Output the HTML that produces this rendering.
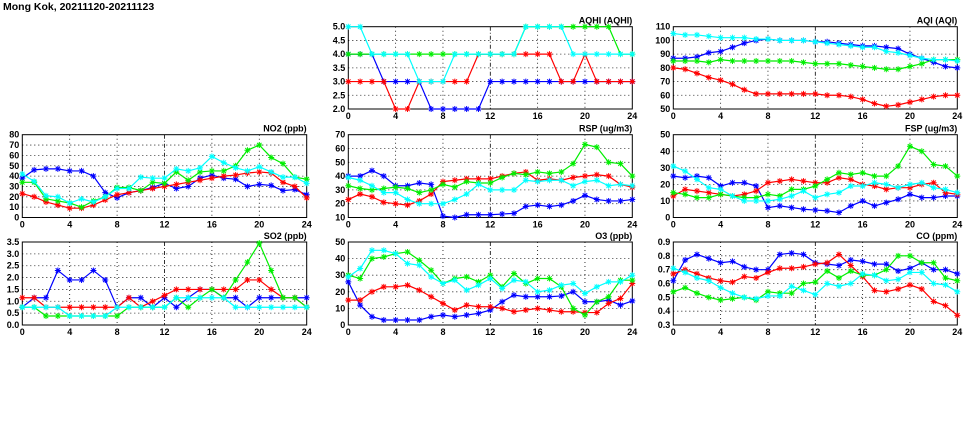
<!DOCTYPE html>
<html><head><meta charset="utf-8"><style>
body{margin:0;background:#fff;width:975px;height:447px;overflow:hidden}
svg{display:block}
text{font-family:"Liberation Sans",sans-serif;font-weight:bold;font-size:9px;fill:#000}
</style></head><body>
<svg id="s" width="975" height="447" xmlns="http://www.w3.org/2000/svg">
<text x="3" y="10" style="font-size:10.5px">Mong Kok, 20211120-20211123</text>
</svg>
<script>
const S=document.getElementById('s');
const NS='http://www.w3.org/2000/svg';
function el(t,a,txt){const e=document.createElementNS(NS,t);for(const k in a)e.setAttribute(k,a[k]);if(txt!=null)e.textContent=txt;S.appendChild(e);return e;}
const C={b:'#0000ff',r:'#ff0000',g:'#00ee00',c:'#00ffff'};
function panel(x0,x1,y0,y1,min,max,step,dec,title,data){
  const sx=h=>x0+(x1-x0)*h/24, sy=v=>y1-(y1-y0)*(v-min)/(max-min);
  el('rect',{x:x0,y:y0,width:x1-x0,height:y1-y0,fill:'none',stroke:'#000','stroke-width':1});
  const n=Math.round((max-min)/step);
  for(let i=0;i<=n;i++){const v=min+i*step,y=sy(v);
    if(i>0&&i<n)el('line',{x1:x0,x2:x1,y1:y,y2:y,stroke:'#000','stroke-width':0.8,'stroke-dasharray':'1,3'});
    el('text',{x:x0-3,y:y+3,'text-anchor':'end'},v.toFixed(dec));}
  for(let h=0;h<=24;h+=4){const x=sx(h);
    if(h>0&&h<24)el('line',{x1:x,x2:x,y1:y0,y2:y1,stroke:'#000','stroke-width':0.8,'stroke-dasharray':h==12?'4,2,1,2':'1,3'});
    el('text',{x:x,y:y1+10,'text-anchor':'middle'},h);}
  el('text',{x:x1,y:y0-3,'text-anchor':'end'},title);
  for(const k of ['b','r','g','c']){const d=data[k];
    el('polyline',{points:d.map((v,i)=>sx(i)+','+sy(v)).join(' '),fill:'none',stroke:C[k],'stroke-width':1.2});
    d.forEach((v,i)=>{const x=sx(i),y=sy(v),r=3;
      el('path',{d:`M${x-r},${y}H${x+r}M${x},${y-r}V${y+r}M${x-2.2},${y-2.2}L${x+2.2},${y+2.2}M${x-2.2},${y+2.2}L${x+2.2},${y-2.2}`,stroke:C[k],'stroke-width':1});});
  }
}
const L=[22.3,306.7],M=[348.3,632.3],R=[673.3,957.3];
const T=[26.7,109],MID=[134.7,217.5],B=[242,325];
panel(L[0],L[1],MID[0],MID[1],0,80,10,0,'NO2 (ppb)',{
b:[38,46,47,47,45,45,40,24,19,24,26,29,33,28,30,38,41,38,37,30,32,31,26,27,22],
r:[23,20,15,12,9,9,12,17,22,24,26,28,30,32,34,36,38,40,41,43,44,43,34,30,19],
g:[34,34,18,16,14,10,16,20,29,29,26,34,33,44,36,44,45,45,50,65,70,58,52,39,37],
c:[42,35,21,20,14,18,15,20,28,28,39,38,38,47,45,48,59,53,48,45,49,44,39,39,33]});
panel(L[0],L[1],B[0],B[1],0,3.5,0.5,1,'SO2 (ppb)',{
b:[0.75,1.15,1.15,2.3,1.9,1.9,2.3,1.9,0.75,1.15,1.15,0.75,1.15,0.75,1.15,1.5,1.5,1.15,1.15,0.75,1.15,1.15,1.15,1.15,1.15],
r:[1.15,1.15,0.75,0.75,0.75,0.75,0.75,0.75,0.75,1.15,0.75,1.0,1.25,1.5,1.5,1.5,1.5,1.5,1.5,1.9,1.9,1.5,1.15,1.15,0.75],
g:[0.75,0.75,0.38,0.38,0.38,0.38,0.38,0.38,0.38,0.75,0.75,0.75,0.75,1.15,0.75,1.15,1.5,1.15,1.9,2.65,3.45,2.3,1.15,1.15,0.75],
c:[0.75,0.75,0.75,0.75,0.38,0.38,0.38,0.38,0.75,0.75,0.75,0.75,0.75,1.15,1.15,1.15,1.15,1.15,0.75,0.75,0.75,0.75,0.75,0.75,0.75]});
panel(M[0],M[1],T[0],T[1],2,5,0.5,1,'AQHI (AQHI)',{
b:[4,4,4,3,3,3,3,2,2,2,2,2,3,3,3,3,3,3,3,3,3,3,3,3,3],
r:[3,3,3,3,2,2,3,3,3,3,3,4,4,4,4,4,4,4,3,3,4,3,3,3,3],
g:[4,4,4,4,4,4,4,4,4,4,4,4,4,4,4,5,5,5,5,5,5,5,5,4,4],
c:[5,5,4,4,4,4,3,3,3,4,4,4,4,4,4,5,5,5,5,4,4,4,4,4,4]});
panel(M[0],M[1],MID[0],MID[1],10,70,10,0,'RSP (ug/m3)',{
b:[40,40,44,40,33,33,35,34,11,10,12,12,12,12.5,13,18,19,18,19,22,26,23,22,22,23],
r:[23,27,25,21,20,19,22,27,36,37,38,38,38,40,42,43,37,38,37,39,40,41,40,34,32],
g:[33,31,30,31,32,31,28,30,34,32,36,35,35,39,42,41,43,42,43,49,63,61,50,49,40],
c:[39,37,33,28,28,23,20,20,20,23,27,34,30,30,30,37,36,37,37,33,36,37,33,34,33]});
panel(M[0],M[1],B[0],B[1],0,50,10,0,'O3 (ppb)',{
b:[26,12,5,3,3,3,3,5,6,5,6,7,9,14,18,17,17,17,17.5,20,14,14,15,12,14.5],
r:[15,15,20,23,23,24,21,17,13,9,12,11,11,10,8,9,10,9,8,8,7.5,7.5,13,16,25],
g:[30,28,40,41,43,44,39,33,25,28,29,26,30,23,31,25,28,28,23,10,6,14,17,27,27],
c:[29,34,45,45,43,37,36,29,25,27,21,24,28,22,27,26,20,21,24,25,19,23,26,26,30]});
panel(R[0],R[1],T[0],T[1],50,110,10,0,'AQI (AQI)',{
b:[87,87,88,91,92,95,98,100,101,100,100,100,99,99,98,97,96,96,95,94,90,87,84,81,80],
r:[80,79,76,73,71,68,64,61,61,61,61,61,61,60,60,59,57,54,52,53,55,57,59,60,60],
g:[85,85,85,84,86,85,85,85,85,85,85,84,83,83,83,82,81,80,79,79,81,83,86,86,86],
c:[105,104,104,103,102,102,102,101,101,100,100,100,99,98,97,96,95,95,92,91,89,87,86,86,85]});
panel(R[0],R[1],MID[0],MID[1],0,50,10,0,'FSP (ug/m3)',{
b:[25,24,25,24,19,21,21,19,6,7,6,5,4.5,4,3,7,10,7,9,11,14,12,12,13,13],
r:[13,17,16,15,14,13,14,16,21,22,23,22,21,21,24,23,20,19,17,18,18,20,21,15,14],
g:[15,14,12,12,14,13,12,12,14,13,17,17,19,23,27,26,27,25,25,31,43,40,32,31,25],
c:[31,28,23,18,17,13,10,10,10,11,13,16,12,14,15,19,19,21,20,18,20,21,18,17,15]});
panel(R[0],R[1],B[0],B[1],0.3,0.9,0.1,1,'CO (ppm)',{
b:[0.62,0.77,0.81,0.78,0.75,0.76,0.72,0.70,0.70,0.81,0.82,0.81,0.75,0.74,0.73,0.77,0.76,0.74,0.74,0.69,0.71,0.75,0.70,0.70,0.67],
r:[0.67,0.70,0.67,0.64,0.62,0.61,0.65,0.64,0.68,0.71,0.71,0.72,0.74,0.75,0.81,0.73,0.65,0.55,0.54,0.56,0.59,0.56,0.47,0.44,0.37],
g:[0.54,0.57,0.53,0.50,0.48,0.49,0.50,0.48,0.54,0.53,0.53,0.60,0.61,0.69,0.64,0.69,0.66,0.66,0.70,0.80,0.80,0.75,0.75,0.64,0.62],
c:[0.71,0.68,0.64,0.62,0.57,0.53,0.50,0.49,0.51,0.51,0.58,0.55,0.52,0.60,0.58,0.60,0.67,0.66,0.62,0.63,0.68,0.68,0.60,0.59,0.54]});
</script>
</body></html>
